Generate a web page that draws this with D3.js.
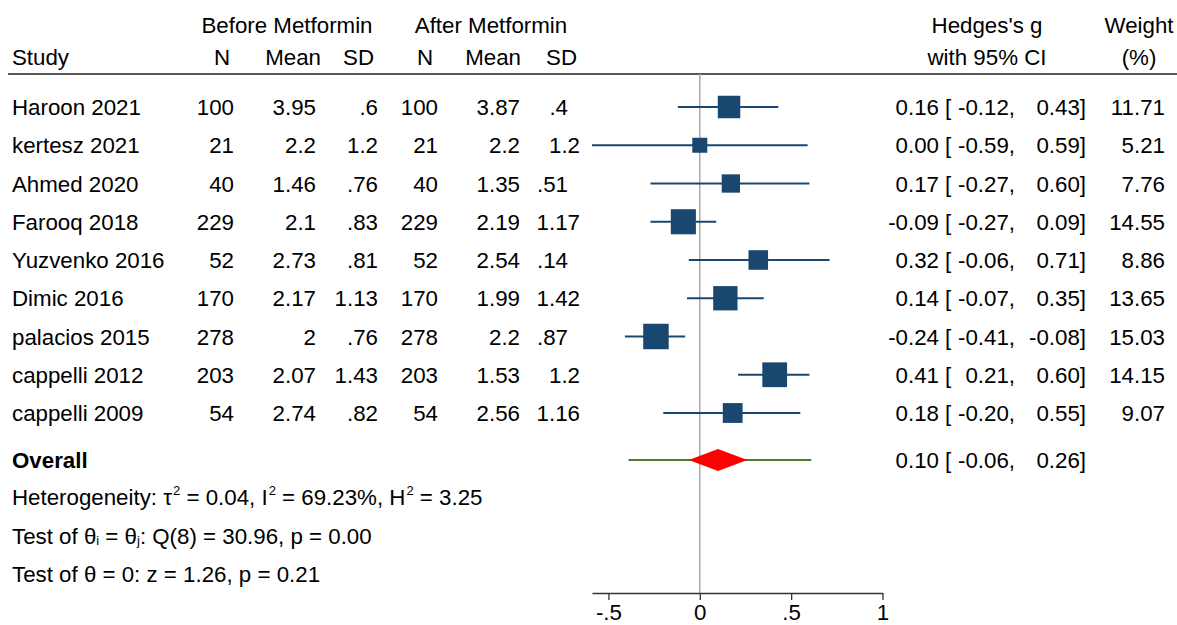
<!DOCTYPE html>
<html>
<head>
<meta charset="utf-8">
<script src="https://cdn.jsdelivr.net/npm/d3@7/dist/d3.min.js"></script>
<style>
  body { margin: 0; background: #fff; }
  svg text { font-family: "Liberation Sans", Arial, Helvetica, sans-serif; font-size: 22.3px; fill: #000; }
</style>
</head>
<body>
<div id="chart"></div>
<script>
const studies = ["Haroon 2021", "kertesz 2021", "Ahmed 2020", "Farooq 2018", "Yuzvenko 2016",
                 "Dimic 2016", "palacios 2015", "cappelli 2012", "cappelli 2009"];
const nBefore = ["100", "21", "40", "229", "52", "170", "278", "203", "54"];
const meanBefore = ["3.95", "2.2", "1.46", "2.1", "2.73", "2.17", "2", "2.07", "2.74"];
const sdBefore = [".6", "1.2", ".76", ".83", ".81", "1.13", ".76", "1.43", ".82"];
const nAfter = ["100", "21", "40", "229", "52", "170", "278", "203", "54"];
const meanAfter = ["3.87", "2.2", "1.35", "2.19", "2.54", "1.99", "2.2", "1.53", "2.56"];
const sdAfter = [".4", "1.2", ".51", "1.17", ".14", "1.42", ".87", "1.2", "1.16"];
const hedgesG = [0.16, 0.00, 0.17, -0.09, 0.32, 0.14, -0.24, 0.41, 0.18];
const ciLow = [-0.12, -0.59, -0.27, -0.27, -0.06, -0.07, -0.41, 0.21, -0.20];
const ciHigh = [0.43, 0.59, 0.60, 0.09, 0.71, 0.35, -0.08, 0.60, 0.55];
const weights = [11.71, 5.21, 7.76, 14.55, 8.86, 13.65, 15.03, 14.15, 9.07];
const overall = [0.10, -0.06, 0.26];   // estimate, lower, upper
const predInterval = [-0.39, 0.61];
const xTicks = [-0.5, 0, 0.5, 1];

const width = 1177, height = 625;
const svg = d3.select("#chart").append("svg")
    .attr("width", width)
    .attr("height", height);

const rows = studies.map((s, i) => ({
    study: s, n1: nBefore[i], m1: meanBefore[i], sd1: sdBefore[i],
    n2: nAfter[i], m2: meanAfter[i], sd2: sdAfter[i],
    g: hedgesG[i], lo: ciLow[i], hi: ciHigh[i], w: weights[i]
}));

const x = d3.scaleLinear().domain([d3.min(ciLow), 1]).range([592, 882.5]);
const y = d3.scaleLinear().domain([0, studies.length - 1]).range([107, 413]);
const size = d3.scaleSqrt().domain([0, d3.max(weights)]).range([0, 25.5]);
const locale = d3.formatLocale({ decimal: ".", thousands: ",", grouping: [3], currency: ["", ""], minus: "-" });
const fmt = locale.format(".2f");
const navy = "#1a476f";

// header
const header = svg.append("g");
header.append("text").attr("x", 287).attr("y", 33).attr("text-anchor", "middle").text("Before Metformin");
header.append("text").attr("x", 491).attr("y", 33).attr("text-anchor", "middle").text("After Metformin");
header.append("text").attr("x", 12).attr("y", 65).text("Study");
[["N", 230], ["Mean", 321], ["SD", 374], ["N", 433], ["Mean", 521], ["SD", 577]].forEach(([t, px]) => {
    header.append("text").attr("x", px).attr("y", 65).attr("text-anchor", "end").text(t);
});
header.append("text").attr("x", 987).attr("y", 33).attr("text-anchor", "middle").text("Hedges's g");
header.append("text").attr("x", 987).attr("y", 65).attr("text-anchor", "middle").text("with 95% CI");
header.append("text").attr("x", 1139).attr("y", 33).attr("text-anchor", "middle").text("Weight");
header.append("text").attr("x", 1139).attr("y", 65).attr("text-anchor", "middle").text("(%)");

svg.append("line")
    .attr("x1", 8).attr("x2", width)
    .attr("y1", 74).attr("y2", 74)
    .attr("stroke", "#222").attr("stroke-width", 1.5);

// zero line
svg.append("line")
    .attr("x1", x(0)).attr("x2", x(0))
    .attr("y1", 74).attr("y2", 593)
    .attr("stroke", "#aaa").attr("stroke-width", 1.5);

// x axis
const axis = svg.append("g")
    .attr("transform", "translate(0,593)")
    .call(d3.axisBottom(x).tickValues(xTicks).tickSize(7).tickSizeOuter(0).tickPadding(4.5)
        .tickFormat(d => d === 0 ? "0" : String(d).replace("0.", ".")));
axis.select(".domain").attr("stroke", "#333").attr("stroke-width", 1.3);
axis.selectAll(".tick line").attr("stroke", "#333").attr("stroke-width", 1.3);
axis.selectAll(".tick text").attr("font-size", 22.3).attr("font-family", null).attr("fill", "#000");

// study rows
const row = svg.selectAll("g.row").data(rows).join("g")
    .attr("class", "row")
    .attr("transform", (d, i) => `translate(0,${y(i)})`);

row.append("text").attr("x", 12).attr("y", 8).text(d => d.study);
const cols = [["n1", 234], ["m1", 316], ["sd1", 378], ["n2", 438], ["m2", 520]];
cols.forEach(([k, px]) => {
    row.append("text").attr("x", px).attr("y", 8).attr("text-anchor", "end").text(d => d[k]);
});
row.append("text").attr("x", d => d.sd2.startsWith(".") ? 568 : 580).attr("y", 8)
    .attr("text-anchor", "end").text(d => d.sd2);

row.append("line")
    .attr("x1", d => x(d.lo)).attr("x2", d => x(d.hi))
    .attr("stroke", navy).attr("stroke-width", 2);
row.append("rect")
    .attr("x", d => x(d.g) - size(d.w) / 2)
    .attr("y", d => -size(d.w) / 2)
    .attr("width", d => size(d.w))
    .attr("height", d => size(d.w))
    .attr("fill", navy);

row.append("text").attr("x", 939).attr("y", 8).attr("text-anchor", "end").text(d => fmt(d.g));
row.append("text").attr("x", 945).attr("y", 8).text("[");
row.append("text").attr("x", 1015).attr("y", 8).attr("text-anchor", "end").text(d => fmt(d.lo) + ",");
row.append("text").attr("x", 1086).attr("y", 8).attr("text-anchor", "end").text(d => fmt(d.hi) + "]");
row.append("text").attr("x", 1165).attr("y", 8).attr("text-anchor", "end").text(d => fmt(d.w));

// overall
const yo = 460;
svg.append("text").attr("x", 12).attr("y", yo + 8).attr("font-weight", "bold").text("Overall");
svg.append("line")
    .attr("x1", x(predInterval[0])).attr("x2", x(predInterval[1]))
    .attr("y1", yo).attr("y2", yo)
    .attr("stroke", "#55792a").attr("stroke-width", 2);
svg.append("path")
    .attr("d", `M${x(overall[1])},${yo} L${x(overall[0])},${yo - 11} L${x(overall[2])},${yo} L${x(overall[0])},${yo + 11} Z`)
    .attr("fill", "#ff0000");
svg.append("text").attr("x", 939).attr("y", yo + 8).attr("text-anchor", "end").text(fmt(overall[0]));
svg.append("text").attr("x", 945).attr("y", yo + 8).text("[");
svg.append("text").attr("x", 1015).attr("y", yo + 8).attr("text-anchor", "end").text(fmt(overall[1]) + ",");
svg.append("text").attr("x", 1086).attr("y", yo + 8).attr("text-anchor", "end").text(fmt(overall[2]) + "]");

// stats text
function richLine(yy, parts) {
    const t = svg.append("text").attr("x", 12).attr("y", yy);
    parts.forEach(([s, kind]) => {
        const sp = t.append("tspan").text(s);
        if (kind === "sup") sp.attr("font-size", 13).attr("dy", -10).attr("dx", 1);
        else if (kind === "sub") sp.attr("font-size", 13).attr("dy", 1);
        else if (kind === "afterSup") sp.attr("dy", 10);
        else if (kind === "afterSub") sp.attr("dy", -1);
    });
}
richLine(505, [["Heterogeneity: τ"], ["2", "sup"], [" = 0.04, I", "afterSup"], ["2", "sup"],
    [" = 69.23%, H", "afterSup"], ["2", "sup"], [" = 3.25", "afterSup"]]);
richLine(544, [["Test of θ"], ["i", "sub"], [" = θ", "afterSub"], ["j", "sub"], [": Q(8) = 30.96, p = 0.00", "afterSub"]]);
richLine(582, [["Test of θ = 0: z = 1.26, p = 0.21"]]);
</script>
</body>
</html>
